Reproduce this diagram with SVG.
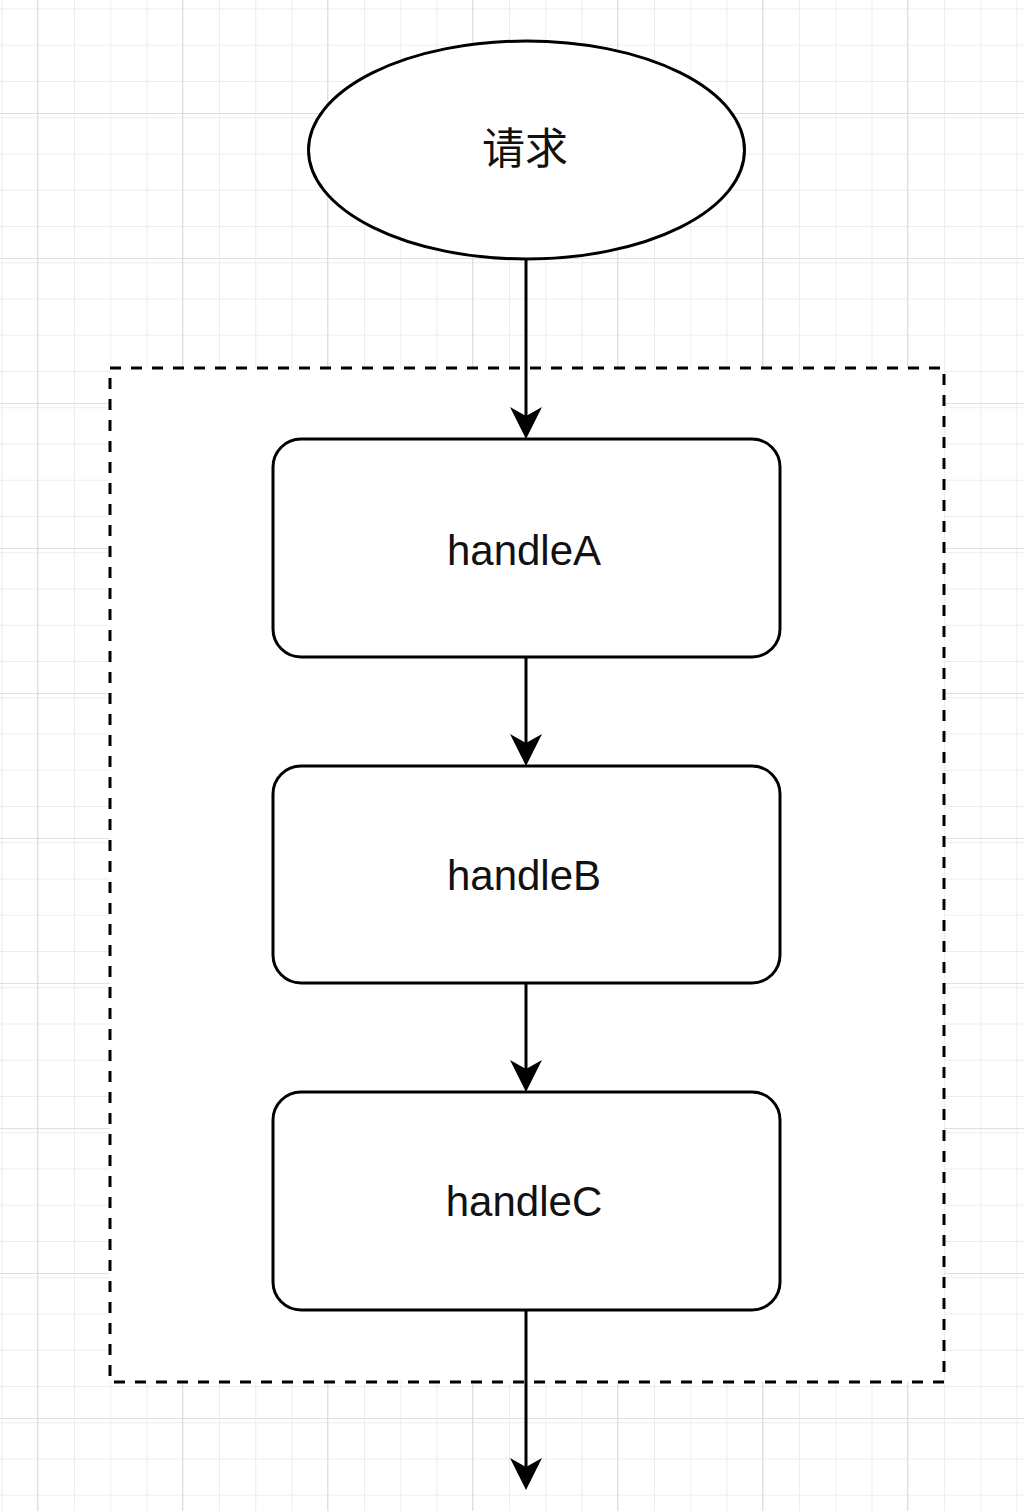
<svg xmlns="http://www.w3.org/2000/svg" width="1024" height="1511" viewBox="0 0 1024 1511">
<style>
.shape{fill:#fff;stroke:#000;stroke-width:3}
.group{fill:#fff;stroke:#000;stroke-width:3;stroke-dasharray:11 10}
.label{font-family:"Liberation Sans",Arial,sans-serif;font-size:42px;fill:#111;text-anchor:middle}
.cjk{font-family:"Noto Sans CJK SC","Liberation Sans",sans-serif;font-size:43px;fill:#111;text-anchor:middle}
.edge{fill:none;stroke:#000;stroke-width:3}
</style>
<defs>
<pattern id="minor" patternUnits="userSpaceOnUse" x="37" y="113" width="36.25" height="36.25">
<path d="M0,0 H36.25 M0,0 V36.25" fill="none" stroke="#e8e8e8" stroke-width="1.5"/>
</pattern>
<pattern id="major" patternUnits="userSpaceOnUse" x="37" y="113" width="145" height="145">
<rect width="145" height="145" fill="url(#minor)"/>
<path d="M0,0 H145 M0,0 V145" fill="none" stroke="#d6d6d6" stroke-width="1.5"/>
</pattern>
<marker id="arrow" markerUnits="userSpaceOnUse" viewBox="0 0 32 32" refX="22" refY="16" markerWidth="32" markerHeight="32" orient="auto">
<path d="M0,0 L32,16 L0,32 L9,16 Z" fill="#000"/>
</marker>
</defs>
<rect width="1024" height="1511" fill="#fff"/>
<rect width="1024" height="1511" fill="url(#major)"/>
<g id="container">
<rect class="group" x="110" y="368" width="834" height="1014"/>
</g>
<g id="request">
<ellipse class="shape" cx="526.5" cy="150" rx="218" ry="109"/>
<text class="cjk" x="525" y="164">请求</text>
</g>
<g id="handleA">
<rect class="shape" x="273" y="439" width="507" height="218" rx="28" ry="28"/>
<text class="label" x="524" y="565">handleA</text>
</g>
<g id="handleB">
<rect class="shape" x="273" y="766" width="507" height="217" rx="28" ry="28"/>
<text class="label" x="524" y="890">handleB</text>
</g>
<g id="handleC">
<rect class="shape" x="273" y="1092" width="507" height="218" rx="28" ry="28"/>
<text class="label" x="524" y="1216">handleC</text>
</g>
<g id="connectors">
<path class="edge" d="M526,259 V429" marker-end="url(#arrow)"/>
<path class="edge" d="M526,657 V756" marker-end="url(#arrow)"/>
<path class="edge" d="M526,983 V1082" marker-end="url(#arrow)"/>
<path class="edge" d="M526,1310 V1480" marker-end="url(#arrow)"/>
</g>
</svg>
